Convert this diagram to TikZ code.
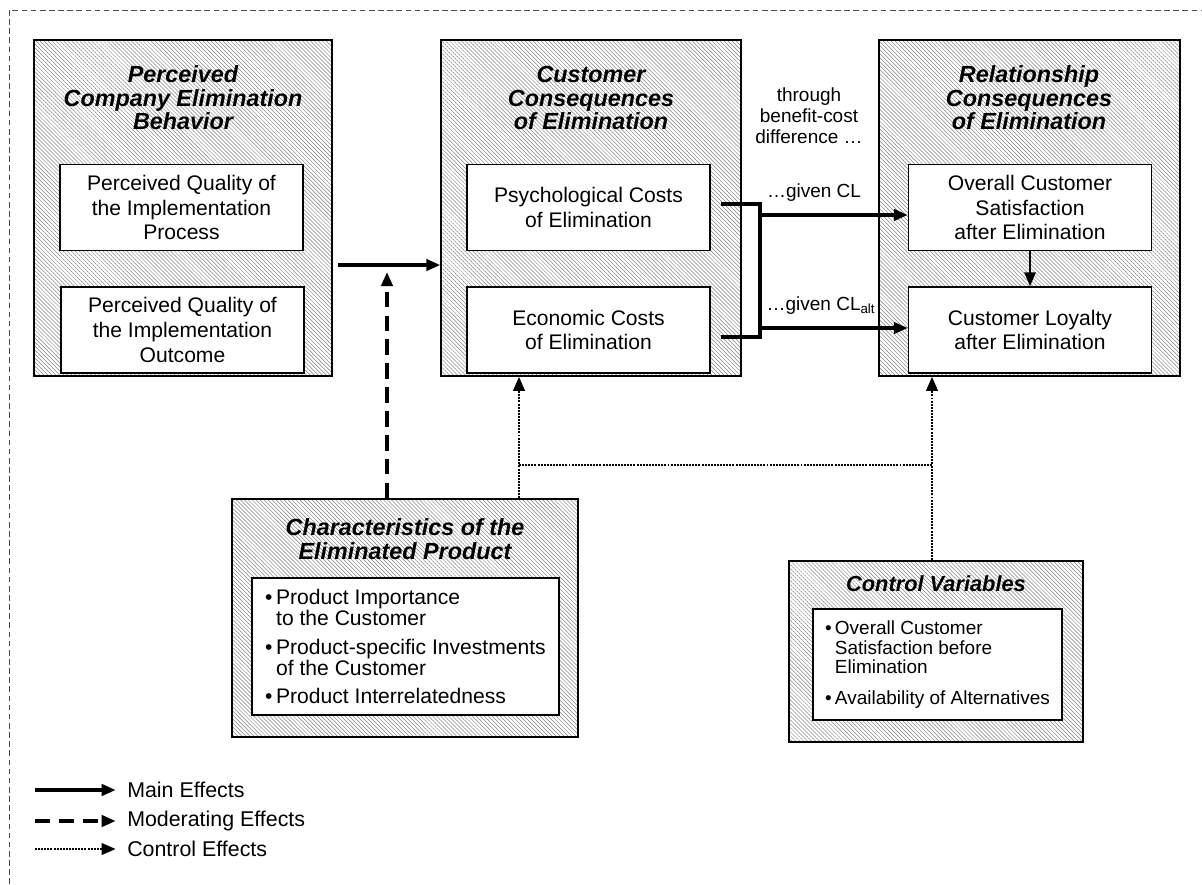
\documentclass[tikz,border=0pt]{standalone}
\usepackage{fontspec}
\setmainfont{Liberation Sans}
\usetikzlibrary{arrows.meta,patterns.meta,calc}

\tikzset{
  frame/.style={draw, line width=0.9pt, inner sep=0pt,
    pattern={Lines[angle=-45,distance=2pt,line width=0.35pt]}, pattern color=black!50},
  item/.style={draw, line width=0.9pt, fill=white, align=center, inner sep=0pt,
    minimum width=6.075cm, minimum height=2.15cm, font=\fontsize{15}{17.7}\selectfont},
  ttl/.style={align=center, inner sep=0pt, font=\fontsize{16.6}{16.8}\selectfont\bfseries\itshape},
  note/.style={align=center, inner sep=0pt, font=\fontsize{13.5}{15}\selectfont},
  tip/.style={-{Triangle[length=10pt,width=8pt]}},
  main/.style={tip, line width=2.6pt},
  moder/.style={tip, line width=2.4pt, dash pattern=on 11pt off 6pt},
  ctrl/.style={tip, line width=2pt, dash pattern=on 1.4pt off 0.8pt},
  legtext/.style={anchor=west, inner sep=0pt, font=\fontsize{15.2}{16}\selectfont},
}

\begin{document}
\begin{tikzpicture}[x=0.025cm, y=-0.025cm]
  \useasboundingbox (0,0) rectangle (1202,884);
  \draw[black!70, line width=0.6pt, dash pattern=on 4pt off 2.5pt] (9,884) -- (9,10) -- (1202,10);

  % upper row
  \node[frame, minimum width=7.45cm, minimum height=8.4cm] (A) at (183,208) {};
  \node[frame, minimum width=7.5cm, minimum height=8.4cm] (B) at (591,208) {};
  \node[frame, minimum width=7.525cm, minimum height=8.4cm] (C) at (1029.5,208) {};
  \node[ttl] (tA) at (183,98) {Perceived\\Company Elimination\\Behavior};
  \node[ttl] (tB) at (591,98) {Customer\\Consequences\\of Elimination};
  \node[ttl] (tC) at (1029,98) {Relationship\\Consequences\\of Elimination};
  \node[item] (A1) at (181.5,207.5) {Perceived Quality of\\the Implementation\\Process};
  \node[item] (A2) at (182.5,330) {Perceived Quality of\\the Implementation\\Outcome};
  \node[item] (B1) at (588.5,207.5) {Psychological Costs\\of Elimination};
  \node[item] (B2) at (588.5,330) {Economic Costs\\of Elimination};
  \node[item] (C1) at (1030,207.5) {Overall Customer\\Satisfaction\\after Elimination};
  \node[item] (C2) at (1030,330) {Customer Loyalty\\after Elimination};

  % lower row
  \node[frame, minimum width=8.65cm, minimum height=5.95cm] (D) at (405,618) {};
  \node[ttl] (tD) at (405,539) {Characteristics of the\\Eliminated Product};
  \node[item, align=left, minimum width=7.675cm, minimum height=3.425cm,
    font=\fontsize{15}{14.9}\selectfont] (D1) at (405.5,646.5)
    {\textbullet\,Product Importance\\\hphantom{\textbullet\,}to the Customer\\[5.5pt]
     \textbullet\,Product-specific Investments\\\hphantom{\textbullet\,}of the Customer\\[5.5pt]
     \textbullet\,Product Interrelatedness};
  \node[frame, minimum width=7.35cm, minimum height=4.525cm] (E) at (936,651.5) {};
  \node[ttl, font=\fontsize{15.5}{16.8}\selectfont\bfseries\itshape] (tE) at (936,584) {Control Variables};
  \node[item, align=left, minimum width=6.225cm, minimum height=2.775cm,
    font=\fontsize{13.5}{13.8}\selectfont] (E1) at (937.5,664.5)
    {\textbullet\,Overall Customer\\\hphantom{\textbullet\,}Satisfaction before\\\hphantom{\textbullet\,}Elimination\\[8pt]
     \textbullet\,Availability of Alternatives};

  % effects
  \coordinate (mj) at (387,265);
  \draw[main] ($(A.east |- mj)+(6,0)$) -- (B.west |- mj);
  \draw[moder] (D.north -| mj) -- ($(mj)+(0,7)$);

  \coordinate (dj) at (519,465);
  \coordinate (ej) at (932,465);
  \draw[ctrl] (D.north -| dj) -- (B.south -| dj);
  \draw[ctrl, -] (dj) -- (ej);
  \draw[ctrl] (E.north -| ej) -- (C.south -| ej);

  \coordinate (p1) at (760,204);
  \coordinate (p2) at (760,337);
  \coordinate (q1) at (760,215);
  \coordinate (q2) at (760,328);
  \draw[line width=2.6pt] ($(B1.east |- p1)+(10,0)$) -- (p1) -- (p2) -- ($(B2.east |- p2)+(10,0)$);
  \draw[main] (q1) -- (C1.west |- q1);
  \draw[main] (q2) -- (C2.west |- q2);
  \draw[tip, line width=1.5pt] (C1.south) -- (C2.north);

  \node[note] (thr) at (809,116) {through\\benefit-cost\\difference \dots};
  \node[note] (g1) at (814,193) {\dots{}given CL};
  \node[note] (g2) at (821,306) {\dots{}given CL\textsubscript{alt}};

  % legend
  \node[legtext] (lmain) at (127,790) {Main Effects};
  \node[legtext] (lmod) at (127,821) {Moderating Effects};
  \node[legtext] (lctrl) at (127,849) {Control Effects};
  \coordinate (k1) at (35,790);
  \coordinate (k2) at (35,821);
  \coordinate (k3) at (35,849);
  \draw[main, shorten >=8pt] (k1) -- (lmain.west);
  \draw[moder, shorten >=8pt] (k2) -- (lmod.west);
  \draw[ctrl, shorten >=8pt] (k3) -- (lctrl.west);
\end{tikzpicture}
\end{document}
